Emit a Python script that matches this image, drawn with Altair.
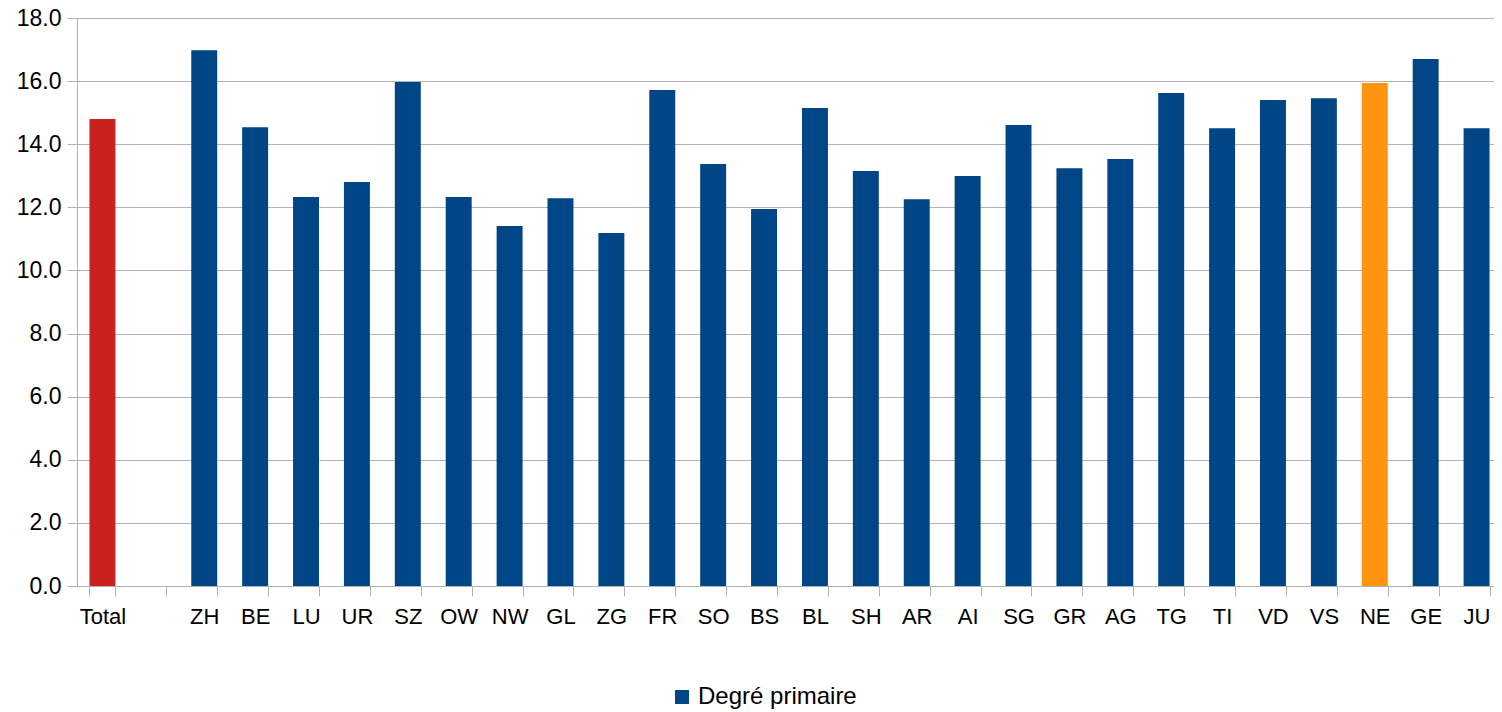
import altair as alt
import pandas as pd

categories = ["Total", "", "ZH", "BE", "LU", "UR", "SZ", "OW", "NW", "GL", "ZG", "FR", "SO", "BS",
              "BL", "SH", "AR", "AI", "SG", "GR", "AG", "TG", "TI", "VD", "VS", "NE", "GE", "JU"]
values = [14.80, None, 16.98, 14.54, 12.33, 12.80, 15.97, 12.33, 11.41, 12.29, 11.19, 15.72, 13.37, 11.95,
          15.15, 13.15, 12.26, 12.99, 14.61, 13.24, 13.53, 15.62, 14.51, 15.40, 15.46, 15.94, 16.70, 14.51]
series_name = "Degré primaire"
y_ticks = [0, 2, 4, 6, 8, 10, 12, 14, 16, 18]

df = pd.DataFrame({"cat": categories, "val": values, "series": series_name})

FONT = "Liberation Sans"
GRID = "#b3b3b3"

color = alt.Color(
    "series:N",
    scale=alt.Scale(domain=[series_name], range=["#004586"]),
    legend=alt.Legend(
        title=None,
        orient="none",
        legendX=593,
        legendY=667,
        symbolType="square",
        symbolSize=196,
        symbolStrokeWidth=0,
        labelFont=FONT,
        labelFontSize=24,
        labelColor="#000000",
        labelOffset=4,
    ),
    condition=[
        {"test": "datum.cat === 'Total'", "value": "#c9211e"},
        {"test": "datum.cat === 'NE'", "value": "#ff950e"},
    ],
)

chart = (
    alt.Chart(df)
    .mark_bar()
    .encode(
        x=alt.X(
            "cat:N",
            sort=None,
            scale=alt.Scale(domain=categories, range=[0, 1425],
                            paddingInner=0.49, paddingOuter=0.245),
            axis=alt.Axis(
                title=None,
                labelAngle=0,
                labelFont=FONT,
                labelFontSize=22,
                labelColor="#000000",
                labelPadding=10,
                tickBand="extent",
                tickSize=10,
                tickColor=GRID,
                domainColor=GRID,
                grid=False,
            ),
        ),
        y=alt.Y(
            "val:Q",
            scale=alt.Scale(domain=[0, 18], nice=False),
            axis=alt.Axis(
                title=None,
                values=y_ticks,
                format=".1f",
                labelFont=FONT,
                labelFontSize=23,
                labelColor="#000000",
                labelPadding=6,
                tickSize=10,
                tickColor=GRID,
                domainColor=GRID,
                grid=True,
                gridColor=GRID,
            ),
        ),
        color=color,
    )
    .properties(
        width=1417,
        height=568,
        autosize=alt.AutoSizeParams(type="none"),
        padding={"left": 69, "top": 10, "right": 0, "bottom": 124},
    )
    .configure_view(stroke=None)
)

chart.save("out.html", embed_options={"renderer": "svg", "actions": False})
